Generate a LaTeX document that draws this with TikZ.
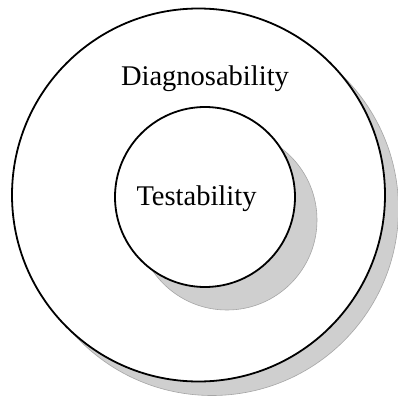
\documentclass[tikz,border=0pt]{standalone}
\usepackage{fontspec}
\setmainfont{Liberation Serif}
\begin{document}
\begin{tikzpicture}[x=1pt,y=-1pt,
  shadowdisc/.style={fill=gray!38,draw=gray!70,line width=0.6pt},
  maindisc/.style={fill=white,draw=black,line width=1.8pt},
  lbl/.style={font=\fontsize{28.5}{31}\selectfont,inner sep=0pt}]
\useasboundingbox (0,0) rectangle (398,402);
\fill[white] (0,0) rectangle (398,402);
\draw[shadowdisc] (212,209) circle (186.5);
\draw[maindisc] (198.5,195) circle (186.5);
\draw[shadowdisc] (227,220) circle (90);
\draw[maindisc] (205,197) circle (90);
\node[lbl,anchor=base] (diag) at (205,85) {Diagnosability};
\node[lbl,anchor=base] (test) at (196.5,205) {Testability};
\end{tikzpicture}
\end{document}
